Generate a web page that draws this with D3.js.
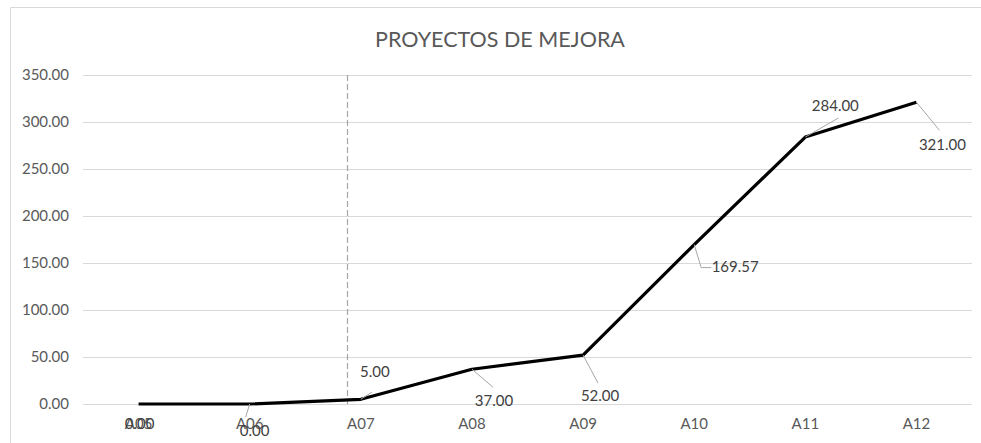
<!DOCTYPE html>
<html><head><meta charset="utf-8">
<script src="https://cdn.jsdelivr.net/npm/d3@7"></script>
<style>body{margin:0;background:#fff}svg{display:block}text{font-family:Lato,"Open Sans",sans-serif}</style>
</head><body>
<svg id="c" width="981" height="443"></svg>
<script>
const title = "PROYECTOS DE MEJORA";
const categories = ["A05","A06","A07","A08","A09","A10","A11","A12"];
const values = [0, 0, 5, 37, 52, 169.57, 284, 321];
const yTicks = [0, 50, 100, 150, 200, 250, 300, 350];
const markerPosition = 2.375; // dashed marker, in category units from the left edge
// label placement (style): offsets from point in px, and leader line end
const labelOffsets = [
  {dx:1, dy:21, lx:0, ly:0},
  {dx:5, dy:28, lx:-4, ly:13},
  {dx:14, dy:-26, lx:11, ly:-7},
  {dx:22, dy:33, lx:21, ly:18},
  {dx:17, dy:42, lx:15, ly:28},
  {dx:41, dy:24, lx:7, ly:23, hook:10},
  {dx:30, dy:-30, lx:33, ly:-19},
  {dx:26, dy:44, lx:23, ly:28}
];

const svg = d3.select("#c");
const m = {l:83, r:9, t:75, b:39};
const W = 981, H = 443;
const FS = 15;
const x = d3.scaleBand().domain(categories).range([m.l, W - m.r]);
const xl = d3.scaleLinear().domain([0, categories.length]).range([m.l, W - m.r]);
const y = d3.scaleLinear().domain([0, 350]).range([H - m.b, m.t]);
const cx = c => x(c) + x.bandwidth()/2;

// chart border
svg.append("path").attr("d", `M10.5,${H} V7.5 H${W}`).attr("fill","none").attr("stroke","#d9d9d9").attr("stroke-width",1);

// gridlines
svg.append("g").selectAll("line").data(yTicks).join("line")
  .attr("x1", m.l).attr("x2", W - m.r)
  .attr("y1", d => Math.round(y(d))+0.5).attr("y2", d => Math.round(y(d))+0.5)
  .attr("stroke", "#d9d9d9");

// y axis labels
const yAxis = d3.axisLeft(y).tickValues(yTicks).tickFormat(d3.format(".2f")).tickSize(0).tickPadding(14);
const ya = svg.append("g").attr("transform", `translate(${m.l},0)`).call(yAxis);
ya.select(".domain").remove();
ya.selectAll("text").attr("font-size", FS).attr("fill", "#595959").style("font-family","Lato");

// x axis labels
const xAxis = d3.axisBottom(x).tickSize(0).tickPadding(14);
const xa = svg.append("g").attr("transform", `translate(0,${y(0)})`).call(xAxis);
xa.select(".domain").remove();
xa.selectAll("text").attr("font-size", FS).attr("fill", "#595959").style("font-family","Lato");

// dashed marker
svg.append("line").attr("x1", Math.round(xl(markerPosition))+0.5).attr("x2", Math.round(xl(markerPosition))+0.5)
  .attr("y1", y(350)).attr("y2", y(0)).attr("stroke","#a6a6a6").attr("stroke-width",1.2).attr("stroke-dasharray","6,3");

// line
const line = d3.line().x((d,i) => cx(categories[i])).y(d => y(d));
svg.append("path").datum(values).attr("d", line).attr("fill","none").attr("stroke","#000").attr("stroke-width",3.2).attr("stroke-linejoin","round");

// leader lines
const lg = svg.append("g");
values.forEach((v,i) => {
  const o = labelOffsets[i];
  if (o.lx === 0 && o.ly === 0) return;
  const px = cx(categories[i]), py = y(v);
  let d = `M${px},${py} L${px+o.lx},${py+o.ly}`;
  if (o.hook) d += ` h${o.hook}`;
  lg.append("path").attr("d", d).attr("fill","none").attr("stroke","#a6a6a6").attr("stroke-width",1);
});

// data labels
svg.append("g").selectAll("text").data(values).join("text")
  .attr("x", (d,i) => cx(categories[i]) + labelOffsets[i].dx)
  .attr("y", (d,i) => y(d) + labelOffsets[i].dy)
  .attr("text-anchor","middle").attr("dominant-baseline","middle")
  .attr("font-size", FS).attr("fill","#404040")
  .text(d => d3.format(".2f")(d));

// title
svg.append("text").attr("x", 500).attr("y", 42).attr("text-anchor","middle").attr("dominant-baseline","middle")
  .attr("font-size", 21.5).attr("fill","#595959").text(title);
</script>
</body></html>
